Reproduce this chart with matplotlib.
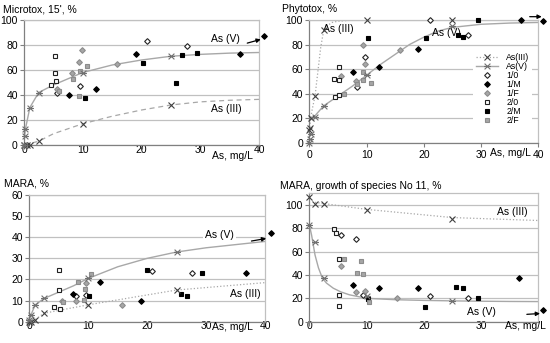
import matplotlib
matplotlib.use("Agg")
import matplotlib.pyplot as plt
from matplotlib.path import Path
from matplotlib.lines import Line2D
from matplotlib.transforms import blended_transform_factory

plt.rcParams['font.family'] = ['Liberation Sans', 'DejaVu Sans']
plt.rcParams['font.size'] = 7.5

# ---------------- Microtox, 15', % ----------------
mt_as3_x = [0, 0.5, 1, 2.5, 10, 25]
mt_as3_y = [0, 0, 0, 3, 17, 32]
mt_as3_fit_x = [0, 2.5, 5, 10, 15, 20, 25, 30, 35, 40]
mt_as3_fit_y = [0, 3, 9, 17, 23, 28, 32, 34.5, 35.8, 36.5]
mt_as5_x = [0, 0.1, 0.25, 1, 2.5, 10, 25]
mt_as5_y = [0, 7, 13, 30, 42, 58, 71]
mt_as5_fit_x = [0, 0.1, 0.25, 1, 2.5, 5, 10, 15, 20, 25, 30, 35, 40]
mt_as5_fit_y = [0, 7, 13, 30, 42, 48, 58, 64, 68, 71, 72.5, 73.5, 74]
mt_10_x = [5.6, 9.6, 21, 27.8]
mt_10_y = [41.5, 47.5, 83, 79.5]
mt_1m_x = [7.7, 12.2, 19, 36.8]
mt_1m_y = [40, 45, 73, 72.5]
mt_1f_x = [5.7, 8.2, 9.4, 9.8, 15.8]
mt_1f_y = [45, 58, 66.5, 76, 64.5]
mt_20_x = [4.6, 5.2, 5.2, 5.4]
mt_20_y = [48, 57.5, 71, 51]
mt_2m_x = [10.4, 20.3, 25.8, 26.9, 29.5]
mt_2m_y = [38, 66, 50, 72, 74]
mt_2f_x = [6.0, 8.4, 9.4, 9.6, 10.8]
mt_2f_y = [43, 53, 39, 59, 63.5]
mt_out = (40.8, 87.5)

# ---------------- Phytotox, % ----------------
ph_as3_x = [0, 0.1, 0.25, 1, 2.5, 10, 25]
ph_as3_y = [10, 12, 20, 38, 92, 100, 100]
ph_as3_fit_x = [0, 0.25, 0.5, 1, 1.5, 2, 2.5, 3, 4, 5, 7, 10, 40]
ph_as3_fit_y = [10, 20, 27, 38, 58, 78, 91, 95, 98, 99, 99.7, 100, 100]
ph_as5_x = [0, 0.1, 0.25, 1, 2.5, 10, 25]
ph_as5_y = [0, 3, 7, 21, 30, 55, 95]
ph_as5_fit_x = [0, 1, 2.5, 5, 7.5, 10, 12.5, 15, 17.5, 20, 22.5, 25, 30, 35, 40]
ph_as5_fit_y = [18, 22, 30, 38, 46, 55, 64, 72, 80, 86, 91, 94, 96.5, 97.5, 98]
ph_10_x = [8.3, 9.7, 21, 27.8]
ph_10_y = [45, 70, 100, 88]
ph_1m_x = [7.7, 12.2, 19, 37]
ph_1m_y = [58, 62, 76.5, 100]
ph_1f_x = [5.5, 8.1, 9.4, 9.8, 15.8]
ph_1f_y = [54, 50, 80, 64, 75.5]
ph_20_x = [4.4, 5.2, 5.2, 4.5, 5.2]
ph_20_y = [52, 62, 51, 37, 39]
ph_2m_x = [10.2, 20.3, 25.9, 26.9, 29.5]
ph_2m_y = [85.5, 85.5, 88, 86, 100]
ph_2f_x = [6.0, 8.3, 9.4, 9.4, 10.7]
ph_2f_y = [39.5, 47.5, 57.5, 51, 48.5]
ph_out = (40.9, 99.5)

# ---------------- MARA, % ----------------
ma_as3_x = [0, 0.25, 1, 2.5, 10, 25]
ma_as3_y = [0, 0, 1, 4, 8, 15]
ma_as3_fit_x = [0, 1, 2.5, 10, 25, 40]
ma_as3_fit_y = [0, 1, 4, 8, 15, 18.5]
ma_as5_x = [0, 0.25, 1, 2.5, 10, 25]
ma_as5_y = [1, 3, 8, 11, 20.5, 33]
ma_as5_fit_x = [0, 0.25, 1, 2.5, 5, 7.5, 10, 15, 20, 25, 30, 35, 40]
ma_as5_fit_y = [1, 3, 8, 11, 14, 17, 20.5, 26, 30, 33, 35, 36.5, 38]
ma_10_x = [8.0, 9.6, 20.9, 27.6]
ma_10_y = [12, 12.5, 24, 23]
ma_1m_x = [7.5, 12, 18.9, 36.7]
ma_1m_y = [13, 19, 10, 23]
ma_1f_x = [5.5, 8.0, 9.7, 15.8]
ma_1f_y = [10, 10, 18.5, 8]
ma_20_x = [5.1, 5.1, 4.2, 5.2]
ma_20_y = [24.3, 15, 7, 6]
ma_2m_x = [10.2, 20.0, 25.7, 26.8, 29.3]
ma_2m_y = [12, 24.3, 13, 12.3, 23]
ma_2f_x = [5.8, 8.2, 9.3, 9.5, 10.5]
ma_2f_y = [9.2, 19, 10.3, 15.4, 22.4]
ma_out = (41, 42)

# ---------------- MARA, growth of species No 11, % ----------------
sp_as3_x = [0, 1, 2.5, 10, 25]
sp_as3_y = [107, 101, 100.5, 95.5, 88]
sp_as3_fit_x = [1, 2.5, 10, 25, 40]
sp_as3_fit_y = [102, 101, 96, 89, 86.5]
sp_as5_x = [0, 1, 2.5, 10, 25]
sp_as5_y = [83, 68.5, 37, 22, 17.5]
sp_as5_fit_x = [0, 0.4, 1, 1.6, 2.3, 3, 4.2, 5.5, 7, 10, 15, 20, 25, 30, 35, 40]
sp_as5_fit_y = [83, 74, 57, 46, 37, 33, 28.6, 25.5, 23, 20, 18.8, 18.2, 17.8, 17.5, 17.3, 17.2]
sp_10_x = [5.5, 8.2, 9.4, 21, 27.8]
sp_10_y = [74, 71, 23, 21.7, 20]
sp_1m_x = [7.7, 12.1, 19, 36.7]
sp_1m_y = [31, 29, 29, 37.7]
sp_1f_x = [5.5, 8.1, 9.8, 15.4]
sp_1f_y = [47.7, 25, 26, 20]
sp_20_x = [4.3, 4.6, 5.2, 5.2, 5.2]
sp_20_y = [79, 76, 53.4, 22.6, 13.4]
sp_2m_x = [10.2, 20.2, 25.7, 26.9, 29.4]
sp_2m_y = [19, 12.6, 30, 29, 20]
sp_2f_x = [6.0, 8.3, 9.1, 9.4, 10.5]
sp_2f_y = [53.4, 42, 52, 40.5, 17]
sp_out = (40.8, 10)

legend_labels = ['As(III)', 'As(V)', '1/0', '1/M', '1/F', '2/0', '2/M', '2/F']

# ---------------- styles ----------------
GRID = '#c0c0c0'
AXC = '#808080'
star = Path([(-1, -1), (1, 1), (-1, 1), (1, -1), (-1.2, 0), (1.2, 0)],
            [Path.MOVETO, Path.LINETO, Path.MOVETO, Path.LINETO, Path.MOVETO, Path.LINETO])

st_as3 = dict(marker='x', color='#404040', ms=4.2, mew=0.8, ls='none')
st_as5 = dict(marker=star, color='#707070', mfc='none', ms=5.0, mew=0.8, ls='none')
DS = 2.9
SS = 3.4
st = {
    '1/0': dict(marker='D', mfc='white', mec='#222222', ms=DS, mew=0.8, ls='none'),
    '1/M': dict(marker='D', mfc='black', mec='black', ms=DS, mew=0.8, ls='none'),
    '1/F': dict(marker='D', mfc='#a6a6a6', mec='#8c8c8c', ms=DS, mew=0.8, ls='none'),
    '2/0': dict(marker='s', mfc='white', mec='#222222', ms=SS, mew=0.8, ls='none'),
    '2/M': dict(marker='s', mfc='black', mec='black', ms=SS, mew=0.8, ls='none'),
    '2/F': dict(marker='s', mfc='#a6a6a6', mec='#8c8c8c', ms=SS, mew=0.8, ls='none'),
}

fig = plt.figure(figsize=(5.5, 3.43), dpi=100)


def make_ax(l, b, w, h, ymax, yticks, xticks, xpad):
    ax = fig.add_axes([l / 550, 1 - b / 343, w / 550, h / 343])
    ax.set_xlim(0, 40)
    ax.set_ylim(0, ymax)
    ax.set_yticks(yticks)
    ax.set_xticks(xticks)
    ax.grid(axis='y', color=GRID, lw=0.9)
    ax.set_axisbelow(True)
    for s in ['left', 'bottom']:
        ax.spines[s].set_color(AXC)
        ax.spines[s].set_linewidth(0.9)
    for s in ['top', 'right']:
        ax.spines[s].set_color(GRID)
        ax.spines[s].set_linewidth(0.9)
    ax.tick_params(axis='both', direction='out', length=3, width=0.8, color=AXC, labelsize=7.5, pad=1.5)
    ax.tick_params(axis='x', pad=xpad)
    return ax


def draw(ax, as3, as3fit, as5, as5fit, groups, out, as3ls):
    ax.plot(as3fit[0], as3fit[1], color='#a8a8a8', lw=0.9, ls=as3ls)
    ax.plot(as5fit[0], as5fit[1], color='#a8a8a8', lw=1.0, ls='-')
    for key, (gx, gy) in groups.items():
        ax.plot(gx, gy, clip_on=False, zorder=3, **st[key])
    ax.plot(as3[0], as3[1], clip_on=False, zorder=4, **st_as3)
    ax.plot(as5[0], as5[1], clip_on=False, zorder=4, **st_as5)
    ax.plot([out[0]], [out[1]], clip_on=False, zorder=5, **st['1/M'])


def arrow(ax, start, end):
    ax.annotate('', xy=end, xytext=start, annotation_clip=False,
                arrowprops=dict(arrowstyle='-|>', color='black', lw=0.9, mutation_scale=6,
                                shrinkA=0, shrinkB=0))


def xlabel(ax, x, dy):
    tr = blended_transform_factory(ax.transData, ax.transAxes)
    ax.text(x, dy, 'As, mg/L', transform=tr, ha='left', va='center', fontsize=7.5)


# ---- panel 1
ax1 = make_ax(24, 145, 235, 125, 100, [0, 20, 40, 60, 80, 100], [0, 10, 20, 30, 40], -3.3)
draw(ax1, (mt_as3_x, mt_as3_y), (mt_as3_fit_x, mt_as3_fit_y), (mt_as5_x, mt_as5_y),
     (mt_as5_fit_x, mt_as5_fit_y),
     {'1/0': (mt_10_x, mt_10_y), '1/M': (mt_1m_x, mt_1m_y), '1/F': (mt_1f_x, mt_1f_y),
      '2/0': (mt_20_x, mt_20_y), '2/M': (mt_2m_x, mt_2m_y), '2/F': (mt_2f_x, mt_2f_y)},
     mt_out, (0, (4, 3)))
ax1.text(31.9, 85, 'As (V)', fontsize=7.5, va='center')
ax1.text(31.9, 29, 'As (III)', fontsize=7.5, va='center')
arrow(ax1, (38.0, 81.5), (40.3, 84.5))
xlabel(ax1, 32, -0.085)
fig.text(3 / 550, 1 - 9 / 343, "Microtox, 15', %", va='center', fontsize=7.5)

# ---- panel 2
ax2 = make_ax(309.3, 142.7, 229, 122.7, 100, [0, 20, 40, 60, 80, 100], [0, 10, 20, 30, 40], 2.2)
draw(ax2, (ph_as3_x, ph_as3_y), (ph_as3_fit_x, ph_as3_fit_y), (ph_as5_x, ph_as5_y),
     (ph_as5_fit_x, ph_as5_fit_y),
     {'1/0': (ph_10_x, ph_10_y), '1/M': (ph_1m_x, ph_1m_y), '1/F': (ph_1f_x, ph_1f_y),
      '2/0': (ph_20_x, ph_20_y), '2/M': (ph_2m_x, ph_2m_y), '2/F': (ph_2f_x, ph_2f_y)},
     ph_out, ':')
ax2.text(2.4, 92.5, 'As (III)', fontsize=7.5, va='center')
ax2.text(21.4, 89, 'As (V)', fontsize=7.5, va='center')
arrow(ax2, (38.5, 102.7), (40.6, 102.7))
xlabel(ax2, 31.6, -0.085)
fig.text(282 / 550, 1 - 8.5 / 343, 'Phytotox, %', va='center', fontsize=7.5)

handles = [
    Line2D([], [], color='#a8a8a8', ls=':', lw=0.9, marker='x', mec='#404040', ms=4.2, mew=0.8),
    Line2D([], [], color='#a8a8a8', ls='-', lw=1.0, marker=star, mec='#707070', mfc='none', ms=5.0, mew=0.8),
] + [Line2D([], [], **st[k]) for k in legend_labels[2:]]
leg = ax2.legend(handles, legend_labels, loc='upper left', bbox_to_anchor=(0.715, 0.75),
                 frameon=True, fancybox=False, edgecolor='none', facecolor='white', framealpha=1,
                 fontsize=6.3, labelspacing=0.0, handlelength=2.6, handletextpad=0.9,
                 borderpad=0.3, borderaxespad=0)
leg.set_clip_on(False)

# ---- panel 3
ax3 = make_ax(29.3, 321.7, 235.7, 126.7, 60, [0, 10, 20, 30, 40, 50, 60], [0, 10, 20, 30, 40], -3.3)
draw(ax3, (ma_as3_x, ma_as3_y), (ma_as3_fit_x, ma_as3_fit_y), (ma_as5_x, ma_as5_y),
     (ma_as5_fit_x, ma_as5_fit_y),
     {'1/0': (ma_10_x, ma_10_y), '1/M': (ma_1m_x, ma_1m_y), '1/F': (ma_1f_x, ma_1f_y),
      '2/0': (ma_20_x, ma_20_y), '2/M': (ma_2m_x, ma_2m_y), '2/F': (ma_2f_x, ma_2f_y)},
     ma_out, ':')
ax3.text(29.9, 41.2, 'As (V)', fontsize=7.5, va='center',
         bbox=dict(facecolor='white', edgecolor='none', pad=1.5))
ax3.text(34, 13.3, 'As (III)', fontsize=7.5, va='center')
arrow(ax3, (37.7, 38.2), (40.2, 39.4))
xlabel(ax3, 31, -0.04)
fig.text(4 / 550, 1 - 184 / 343, 'MARA, %', va='center', fontsize=7.5)

# ---- panel 4
ax4 = make_ax(309.3, 321.7, 229, 128.7, 110, [0, 20, 40, 60, 80, 100], [0, 10, 20, 30], -3.5)
draw(ax4, (sp_as3_x, sp_as3_y), (sp_as3_fit_x, sp_as3_fit_y), (sp_as5_x, sp_as5_y),
     (sp_as5_fit_x, sp_as5_fit_y),
     {'1/0': (sp_10_x, sp_10_y), '1/M': (sp_1m_x, sp_1m_y), '1/F': (sp_1f_x, sp_1f_y),
      '2/0': (sp_20_x, sp_20_y), '2/M': (sp_2m_x, sp_2m_y), '2/F': (sp_2f_x, sp_2f_y)},
     sp_out, ':')
ax4.text(32.7, 93.4, 'As (III)', fontsize=7.5, va='center')
ax4.text(27.5, 8.6, 'As (V)', fontsize=7.5, va='center')
arrow(ax4, (38.0, 6.3), (40.3, 7.0))
xlabel(ax4, 34.2, -0.032)
fig.text(280 / 550, 1 - 186 / 343, 'MARA, growth of species No 11, %', va='center', fontsize=7.5)

fig.savefig('out.png', dpi=100)
